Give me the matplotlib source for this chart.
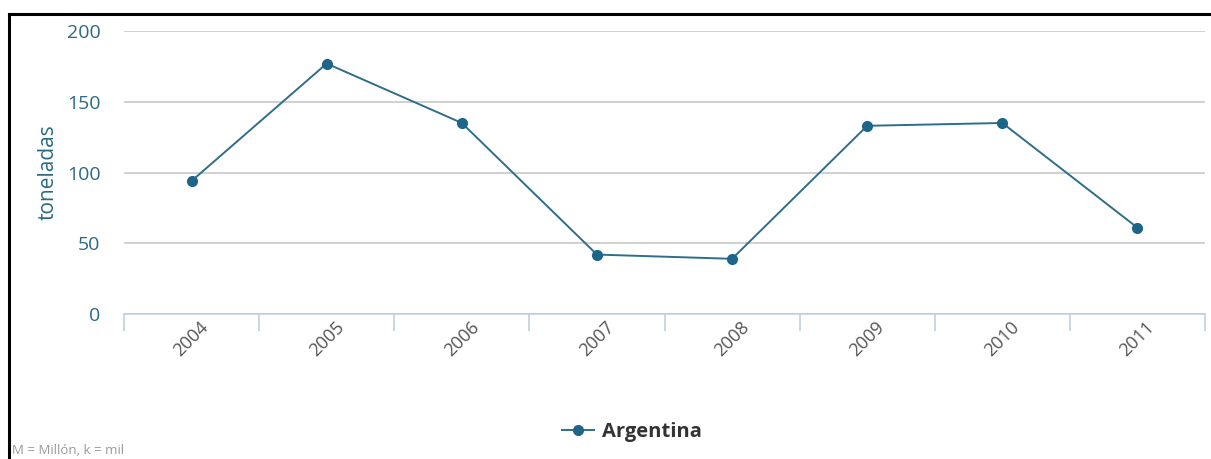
import matplotlib

matplotlib.use("Agg")
import matplotlib.pyplot as plt
from matplotlib.lines import Line2D

years = ["2004", "2005", "2006", "2007", "2008", "2009", "2010", "2011"]
argentina = [94, 177, 135, 42, 39, 133, 135, 61]
yticks = [0, 50, 100, 150, 200]

LINE = "#2e6e8a"
MARK = "#1d6589"
TEAL = "#2a6a85"

plt.rcParams["font.family"] = ["Open Sans", "DejaVu Sans"]

fig = plt.figure(figsize=(12.11, 4.59), dpi=100)
ax = fig.add_axes([124 / 1211, 1 - 314 / 459, (1205 - 124) / 1211, (314 - 31) / 459])

x = list(range(len(years)))
ax.plot(x, argentina, color=LINE, linewidth=1.4, marker="o", markersize=7,
        markerfacecolor=MARK, markeredgecolor=MARK, zorder=3)

ax.set_xlim(-0.5, len(years) - 0.5)
ax.set_ylim(0, 200)
ax.set_yticks(yticks)
ax.set_yticklabels([str(v) for v in yticks], color=TEAL, fontsize=14)
ax.yaxis.grid(True, color="#c8c8c8", linewidth=1.2)
ax.tick_params(axis="y", length=0, pad=17)

ax.set_xticks(x)
ax.set_xticklabels(years, rotation=45, ha="center", va="top", color="#555555", fontsize=13)
ax.set_xticks([i - 0.5 for i in range(len(years) + 1)], minor=True)
ax.tick_params(axis="x", which="major", length=0, pad=3)
ax.tick_params(axis="x", which="minor", length=12, color="#c0d0e0", width=1.2)

for s in ["top", "right", "left"]:
    ax.spines[s].set_visible(False)
ax.spines["bottom"].set_color("#c0d0e0")
ax.spines["bottom"].set_linewidth(1.2)
ax.set_axisbelow(True)

ax.set_ylabel("toneladas", color=TEAL, fontsize=15, labelpad=6)

# legend
handle = Line2D([], [], color=LINE, linewidth=1.4, marker="o", markersize=7,
                markerfacecolor=MARK, markeredgecolor=MARK)
fig.legend([handle], ["Argentina"], loc="center", bbox_to_anchor=(632 / 1211, 1 - 432 / 459),
           frameon=False, prop={"weight": "bold", "size": 14.5}, labelcolor="#333333",
           handlelength=1.6, handletextpad=0.4)

fig.text(12 / 1211, 1 - 451 / 459, "M = Millón, k = mil", color="#999999", fontsize=9.5,
         va="center", ha="left")

# outer frame (top and left edges)
fig.add_artist(Line2D([9 / 1211, 9 / 1211], [0, 1 - 14 / 459], color="black", linewidth=2.2,
                      transform=fig.transFigure))
fig.add_artist(Line2D([9 / 1211, 1], [1 - 14 / 459, 1 - 14 / 459], color="black", linewidth=2.2,
                      transform=fig.transFigure))

fig.savefig("out.png", dpi=100)
plt.close(fig)
